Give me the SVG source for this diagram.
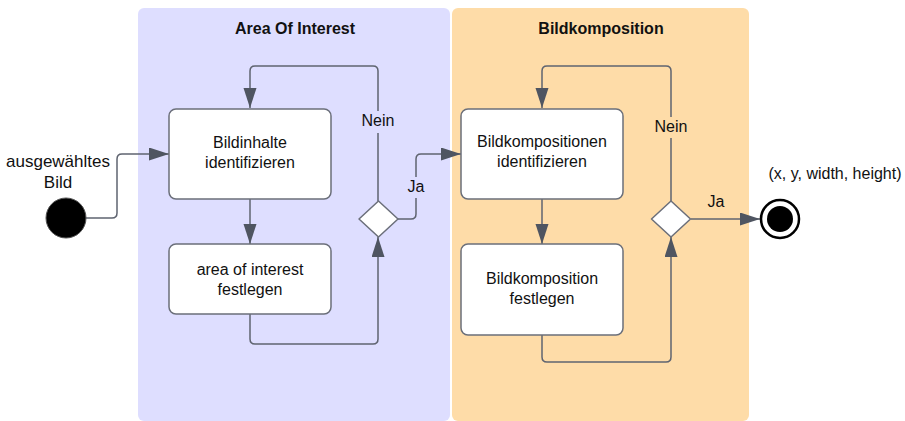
<svg xmlns="http://www.w3.org/2000/svg" width="905" height="421" viewBox="0 0 905 421">
<style>
text{font-family:"Liberation Sans",Arial,sans-serif;font-size:16px;fill:#111;text-anchor:middle}
.title{font-weight:bold;font-size:16px}
.box{fill:#fff;stroke:#6b6f7a;stroke-width:1.5}
.conn{fill:none;stroke:#5f6470;stroke-width:1.5}
.dia{fill:#fff;stroke:#6b6f7a;stroke-width:1.5;stroke-linejoin:round}
</style>
<defs>
<marker id="arr" markerUnits="userSpaceOnUse" markerWidth="20" markerHeight="14" refX="20" refY="6.5" orient="auto">
<path d="M0,0 L20,6.5 L0,13 Z" fill="#4f5561"/>
</marker>
<clipPath id="lblclip"><rect x="6" y="140" width="120" height="60"/></clipPath>
</defs>
<g id="lane-aoi">
<rect x="138" y="8" width="312" height="413" rx="6" fill="#dedeff"/>
<text class="title" x="295" y="34">Area Of Interest</text>
</g>
<g id="lane-bk">
<rect x="452" y="8" width="297" height="413" rx="6" fill="#fedca8"/>
<text class="title" x="601" y="34">Bildkomposition</text>
</g>
<g id="connectors">
<path class="conn" d="M86,218 H112 Q117,218 117,213 V159 Q117,154 122,154 H169" marker-end="url(#arr)"/>
<path class="conn" d="M250,199 V244" marker-end="url(#arr)"/>
<path class="conn" d="M250,314 V339 Q250,344 255,344 H373 Q378,344 378,339 V237" marker-end="url(#arr)"/>
<path class="conn" d="M378,201 V71 Q378,66 373,66 H255 Q250,66 250,71 V108" marker-end="url(#arr)"/>
<path class="conn" d="M398,219 H411 Q416,219 416,214 V159 Q416,154 421,154 H461" marker-end="url(#arr)"/>
<path class="conn" d="M542,199 V244" marker-end="url(#arr)"/>
<path class="conn" d="M542,335 V357 Q542,362 547,362 H666 Q671,362 671,357 V237" marker-end="url(#arr)"/>
<path class="conn" d="M671,201 V71 Q671,66 666,66 H547 Q542,66 542,71 V108" marker-end="url(#arr)"/>
<path class="conn" d="M691,219 H760" marker-end="url(#arr)"/>
<rect x="358" y="111" width="40" height="22" fill="#dedeff"/>
<text x="378" y="126">Nein</text>
<rect x="404" y="177" width="24" height="21" fill="#dedeff"/>
<text x="416" y="192">Ja</text>
<rect x="651" y="117" width="40" height="21" fill="#fedca8"/>
<text x="671" y="132">Nein</text>
<text x="716" y="207">Ja</text>
</g>
<g id="start">
<circle cx="66" cy="218" r="20" fill="#000" stroke="#555" stroke-width="1"/>
<g clip-path="url(#lblclip)">
<text x="58" y="167" style="font-size:17px">ausgewähltes</text>
<text x="58" y="188" style="font-size:17px">Bild</text>
</g>
</g>
<g id="n1">
<rect class="box" x="169" y="109" width="162" height="90" rx="7"/>
<text x="250" y="148">Bildinhalte</text>
<text x="250" y="168">identifizieren</text>
</g>
<g id="n2">
<rect class="box" x="169" y="244" width="162" height="70" rx="7"/>
<text x="250" y="275">area of interest</text>
<text x="250" y="295">festlegen</text>
</g>
<g id="d1">
<path class="dia" d="M378.5,201 L398,219 L378.5,237 L359,219 Z"/>
</g>
<g id="n3">
<rect class="box" x="461" y="109" width="162" height="90" rx="7"/>
<text x="542" y="147">Bildkompositionen</text>
<text x="542" y="167">identifizieren</text>
</g>
<g id="n4">
<rect class="box" x="461" y="244" width="162" height="91" rx="7"/>
<text x="542" y="284">Bildkomposition</text>
<text x="542" y="304">festlegen</text>
</g>
<g id="d2">
<path class="dia" d="M671,201 L690.5,219 L671,237 L651.5,219 Z"/>
</g>
<g id="end">
<circle cx="780" cy="219" r="19" fill="#fff" stroke="#000" stroke-width="2.5"/>
<circle cx="780" cy="219" r="13" fill="#000"/>
<text x="835" y="179">(x, y, width, height)</text>
</g>
</svg>
